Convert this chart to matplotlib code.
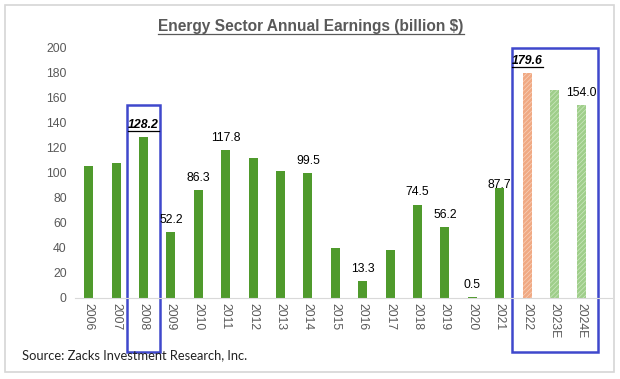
import matplotlib.pyplot as plt
from matplotlib.patches import Rectangle
from matplotlib.lines import Line2D

years = ['2006', '2007', '2008', '2009', '2010', '2011', '2012', '2013', '2014', '2015',
         '2016', '2017', '2018', '2019', '2020', '2021', '2022', '2023E', '2024E']
earnings = [105.5, 107.5, 128.2, 52.2, 86.3, 117.8, 112.0, 101.0, 99.5, 39.5,
            13.3, 38.5, 74.5, 56.2, 0.5, 87.7, 179.6, 166.5, 154.0]
labels = [None, None, '128.2', '52.2', '86.3', '117.8', None, None, '99.5', None,
          '13.3', None, '74.5', '56.2', '0.5', '87.7', '179.6', None, '154.0']
highlight = ['2008', '2022']

GREEN = '#4f9a2c'
SALMON = '#f0a983'
LGREEN = '#9fce8a'
BLUE = '#3f48cc'
GRAY = '#595959'

plt.rcParams['font.family'] = ['Liberation Sans', 'DejaVu Sans']
plt.rcParams['hatch.linewidth'] = 0.5

fig = plt.figure(figsize=(6.2, 3.79), dpi=100)
ax = fig.add_axes([75 / 620, 0.2145, 537 / 620, 0.6595])

x = list(range(len(years)))
for i, (yr, v) in enumerate(zip(years, earnings)):
    if yr == '2022':
        ax.bar(i, v, width=0.33, color=SALMON, edgecolor='#f8d2bd', hatch='///////', linewidth=0)
    elif yr.endswith('E'):
        ax.bar(i, v, width=0.33, color=LGREEN, edgecolor='#cde8c1', hatch='///////', linewidth=0)
    else:
        ax.bar(i, v, width=0.33, color=GREEN, linewidth=0)

ax.set_xlim(-0.5, 19.1)
ax.set_ylim(0, 200)
ax.set_yticks(range(0, 201, 20))
ax.set_xticks(x)
ax.set_xticklabels(years, rotation=270, fontsize=8.8, color=GRAY)
ax.tick_params(axis='y', length=0, pad=6, labelsize=8.8, labelcolor=GRAY)
ax.tick_params(axis='x', length=0, pad=4)
for s in ['top', 'right', 'left']:
    ax.spines[s].set_visible(False)
ax.spines['bottom'].set_color('#d9d9d9')

# data labels
special = []
for i, (yr, v, lab) in enumerate(zip(years, earnings, labels)):
    if lab is None:
        continue
    off = 5
    if yr == '2021':
        off = -2
    if yr in highlight:
        t = ax.text(i, v + off, lab, ha='center', va='bottom', fontsize=8.8,
                    fontweight='bold', fontstyle='italic', color='black')
        special.append(t)
    else:
        ax.text(i, v + off, lab, ha='center', va='bottom', fontsize=8.8, color='black')

# blue boxes around the highlighted years
ax.add_patch(Rectangle((2 - 0.6, -43.5), 1.2, 197.5, fill=False, edgecolor=BLUE,
                       linewidth=1.8, clip_on=False))
ax.add_patch(Rectangle((15.45, -43.5), 3.14, 243.7, fill=False, edgecolor=BLUE,
                       linewidth=1.8, clip_on=False))

title = fig.text(311 / 620, 1 - 27 / 379, 'Energy Sector Annual Earnings (billion $)',
                 ha='center', va='center', fontsize=11.2, fontweight='bold', color=GRAY)
special.append(title)

fig.text(22 / 620, 1 - 355 / 379, 'Source: Zacks Investment Research, Inc.',
         ha='left', va='center', fontsize=9.3, family=['Lato', 'DejaVu Sans'], color='#222222')

# underline texts
fig.canvas.draw()
r = fig.canvas.get_renderer()
for t in special:
    bb = t.get_window_extent(renderer=r).transformed(fig.transFigure.inverted())
    yl = bb.y0 + 0.5 / 379
    fig.add_artist(Line2D([bb.x0, bb.x1], [yl, yl], color=t.get_color(), linewidth=0.9))

# outer frame
fig.add_artist(Rectangle((5 / 620, 1 - 372 / 379), 609 / 620, 367 / 379, fill=False,
                         edgecolor='#d6d6d6', linewidth=1.2, transform=fig.transFigure))

fig.savefig('out.png', dpi=100)
